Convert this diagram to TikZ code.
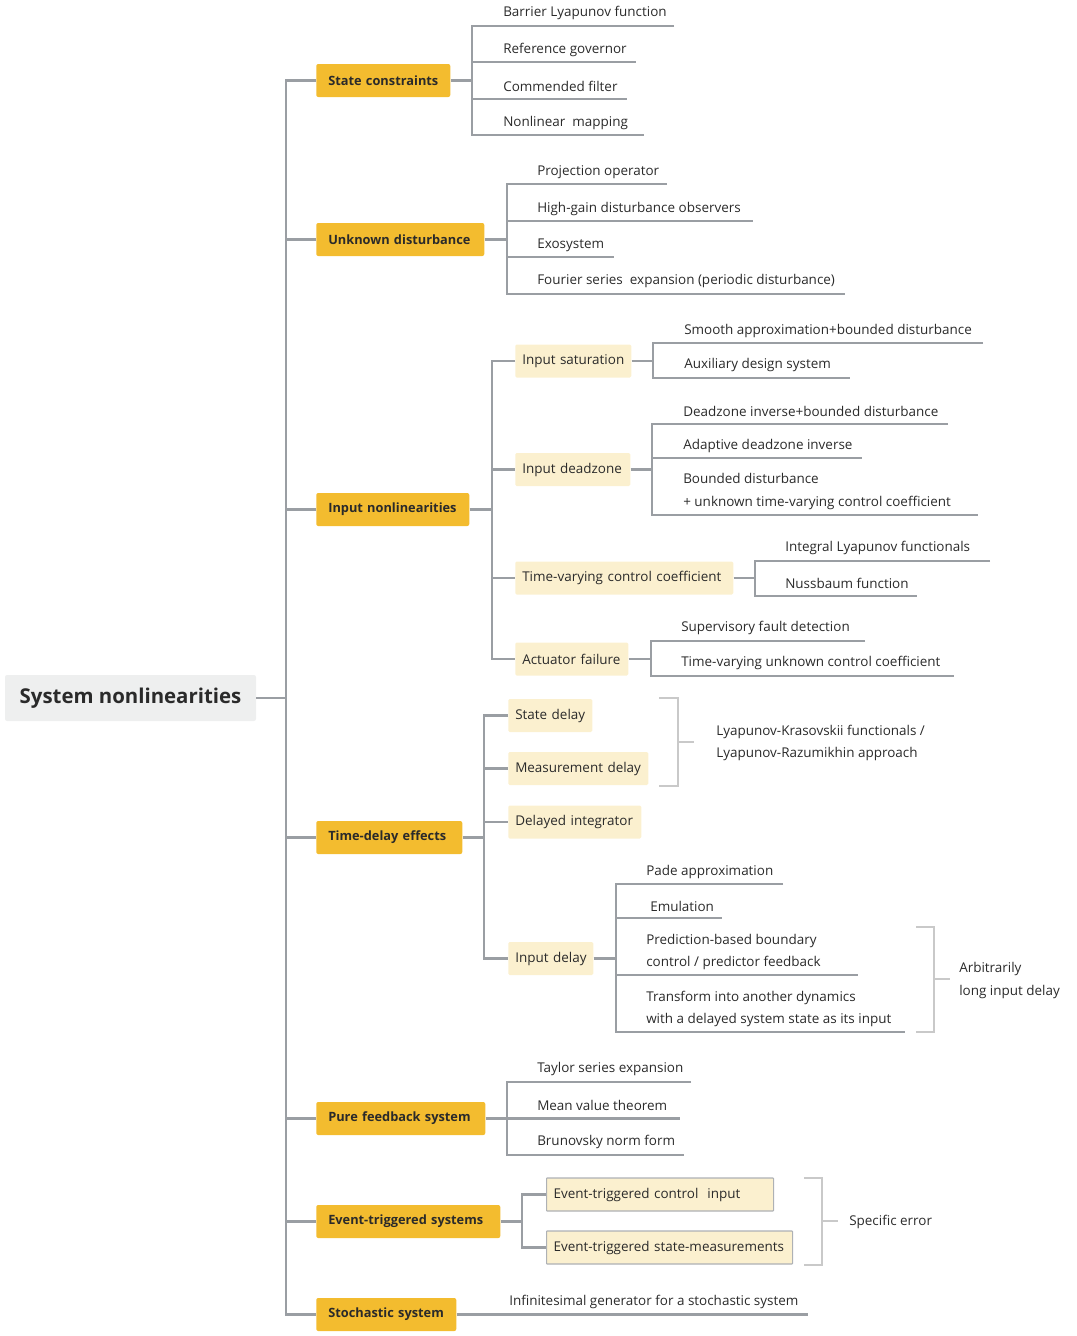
\documentclass[tikz,border=0pt]{standalone}
\usepackage{fontspec}
\setmainfont{Open Sans}
\definecolor{orangeA}{HTML}{F3BC2F}
\definecolor{creamA}{HTML}{FBF0CF}
\definecolor{rootA}{HTML}{EEEFEF}
\definecolor{txtA}{HTML}{2A2A2A}
\definecolor{lineA}{HTML}{9A9EA3}
\definecolor{brkA}{HTML}{C9C9C9}
\begin{document}
\begin{tikzpicture}[x=0.75pt,y=-0.75pt,
  rootbox/.style={fill=rootA, rounded corners=1.5pt, inner sep=0pt, text=txtA,
    font=\bfseries\fontsize{15.3}{18}\selectfont, minimum height=46*0.75pt},
  lone/.style={fill=orangeA, rounded corners=1.5pt, inner sep=0pt, anchor=west, text=txtA,
    align=left, font=\bfseries\fontsize{9.6}{11}\selectfont, minimum height=33*0.75pt,
    text width=#1*0.75pt, execute at begin node={\hyphenpenalty=10000\hspace*{9pt}}},
  ltwo/.style={fill=creamA, rounded corners=1pt, inner sep=0pt, anchor=west, text=txtA,
    align=left, font=\fontsize{10.1}{12}\selectfont, minimum height=33*0.75pt,
    text width=#1*0.75pt, execute at begin node={\hyphenpenalty=10000\hspace*{5.25pt}}},
  lthree/.style={ltwo=#1, draw=lineA!80, line width=0.8pt, rounded corners=0.5pt},
  leaf/.style={anchor=west, inner sep=0pt, text=txtA, font=\fontsize{10.1}{17}\selectfont, align=left},
  spine/.style={draw=lineA, line width=2.2pt},
  branch/.style={draw=lineA, line width=1.8pt},
  brk/.style={draw=brkA, line width=1.4pt}
]
\useasboundingbox (0,0) rectangle (1076,1336);

% root
\node[rootbox, minimum width=251*0.75pt] (root) at (130.5,698) {System nonlinearities};

% level one
\node[lone=134] (sc) at (316,80.5) {State constraints};
\node[lone=168] (ud) at (316,239.5) {Unknown disturbance};
\node[lone=153] (inl) at (316,509.5) {Input nonlinearities};
\node[lone=146] (td) at (316,837.5) {Time-delay effects};
\node[lone=169] (pf) at (316,1118.5) {Pure feedback system};
\node[lone=184] (et) at (316,1221.5) {Event-triggered systems};
\node[lone=140] (ss) at (316,1314.5) {Stochastic system};

% spine
\draw[spine] (root.east) -- (286,698);
\draw[spine] (sc.west) -- (286,80.5) -- (286,1314.5) -- (ss.west);
\draw[spine] (286,239.5) -- (ud.west);
\draw[spine] (286,509.5) -- (inl.west);
\draw[spine] (286,837.5) -- (td.west);
\draw[spine] (286,1118.5) -- (pf.west);
\draw[spine] (286,1221.5) -- (et.west);

% State constraints
\node[leaf] (sc1) at (503,13) {Barrier Lyapunov function};
\node[leaf] (sc2) at (503,50) {Reference governor};
\node[leaf] (sc3) at (503,86) {Commended filter};
\node[leaf] (sc4) at (503,123) {Nonlinear\ \ mapping};
\draw[branch] (sc.east) -- (472,80.5);
\draw[branch] (674,26) -- (472,26) -- (472,135) -- (644,135);
\draw[branch] (472,62) -- (636,62);
\draw[branch] (472,99) -- (627,99);

% Unknown disturbance
\node[leaf] (ud1) at (537,172) {Projection operator};
\node[leaf] (ud2) at (537,209) {High-gain disturbance observers};
\node[leaf] (ud3) at (537,245) {Exosystem};
\node[leaf] (ud4) at (537,281) {Fourier series\ \ expansion (periodic disturbance)};
\draw[branch] (ud.east) -- (507,239.5);
\draw[branch] (667,184) -- (507,184) -- (507,294) -- (845,294);
\draw[branch] (507,221) -- (753,221);
\draw[branch] (507,257) -- (614,257);

% Input nonlinearities
\node[ltwo=116] (isat) at (515,361) {Input saturation};
\node[ltwo=115] (idz) at (515,469.5) {Input deadzone};
\node[ltwo=218] (tvc) at (515,578) {Time-varying control coefficient};
\node[ltwo=113] (af) at (515,659) {Actuator failure};
\draw[branch] (inl.east) -- (492,509.5);
\draw[branch] (isat.west) -- (492,361) -- (492,659) -- (af.west);
\draw[branch] (492,469.5) -- (idz.west);
\draw[branch] (492,578) -- (tvc.west);

% Input saturation children
\node[leaf] (is1) at (684,331) {Smooth approximation+bounded disturbance};
\node[leaf] (is2) at (684,365) {Auxiliary design system};
\draw[branch] (isat.east) -- (653,361);
\draw[branch] (983,343) -- (653,343) -- (653,378) -- (850,378);

% Input deadzone children
\node[leaf] (dz1) at (683,411) {Deadzone inverse+bounded disturbance};
\node[leaf] (dz2) at (683,446) {Adaptive deadzone inverse};
\node[leaf] (dz3) at (683,491.5) {Bounded disturbance\\+ unknown time-varying control coefficient};
\draw[branch] (idz.east) -- (652,469.5);
\draw[branch] (948,424) -- (652,424) -- (652,515) -- (978,515);
\draw[branch] (652,458) -- (862,458);

% Time-varying control coefficient children
\node[leaf] (tv1) at (785,548) {Integral Lyapunov functionals};
\node[leaf] (tv2) at (785,583) {Nussbaum function};
\draw[branch] (tvc.east) -- (755,578);
\draw[branch] (990,561) -- (755,561) -- (755,596) -- (917,596);

% Actuator failure children
\node[leaf] (af1) at (681,628) {Supervisory fault detection};
\node[leaf] (af2) at (681,663) {Time-varying unknown control coefficient};
\draw[branch] (af.east) -- (651,659);
\draw[branch] (865,641) -- (651,641) -- (651,676) -- (954,676);

% Time-delay effects
\node[ltwo=84] (sd) at (508,715.5) {State delay};
\node[ltwo=140] (md) at (508,768.5) {Measurement delay};
\node[ltwo=133] (dint) at (508,822) {Delayed integrator};
\node[ltwo=85] (idl) at (508,958.5) {Input delay};
\draw[branch] (td.east) -- (484,837.5);
\draw[branch] (sd.west) -- (484,715.5) -- (484,958.5) -- (idl.west);
\draw[branch] (484,768.5) -- (md.west);
\draw[branch] (484,822) -- (dint.west);

% bracket for state / measurement delay
\draw[brk] (659,698) -- (678,698) -- (678,786) -- (659,786);
\draw[brk] (678,742) -- (694,742);
\node[leaf] (lk) at (716,743) {Lyapunov-Krasovskii functionals /\\Lyapunov-Razumikhin approach};

% Input delay children
\node[leaf] (id1) at (646,872) {Pade approximation};
\node[leaf] (id2) at (650,906) {Emulation};
\node[leaf] (id3) at (646,952) {Prediction-based boundary\\control / predictor feedback};
\node[leaf] (id4) at (646,1009) {Transform into another dynamics\\with a delayed system state as its input};
\draw[branch] (idl.east) -- (616,958.5);
\draw[branch] (783,884) -- (616,884) -- (616,1032) -- (905,1032);
\draw[branch] (616,918) -- (722,918);
\draw[branch] (616,975) -- (858,975);

% bracket for arbitrarily long input delay
\draw[brk] (916,927) -- (934,927) -- (934,1032) -- (916,1032);
\draw[brk] (934,979) -- (950,979);
\node[leaf] (ald) at (959,980.5) {Arbitrarily\\long input delay};

% Pure feedback
\node[leaf] (pf1) at (537,1069) {Taylor series expansion};
\node[leaf] (pf2) at (537,1105) {Mean value theorem};
\node[leaf] (pf3) at (537,1142) {Brunovsky norm form};
\draw[branch] (pf.east) -- (507,1118.5);
\draw[branch] (691,1082) -- (507,1082) -- (507,1155) -- (684,1155);
\draw[branch] (507,1118.5) -- (680,1118.5);

% Event-triggered
\node[lthree=227] (etc) at (546,1194.5) {Event-triggered control\ \ input};
\node[lthree=246] (ets) at (546,1247.5) {Event-triggered state-measurements};
\draw[branch] (et.east) -- (522,1221.5);
\draw[branch] (etc.west) -- (522,1194.5) -- (522,1247.5) -- (ets.west);
\draw[brk] (804,1178) -- (822,1178) -- (822,1265) -- (804,1265);
\draw[brk] (822,1221) -- (838,1221);
\node[leaf] (se) at (849,1222) {Specific error};

% Stochastic
\node[leaf] (ss1) at (509,1302) {Infinitesimal generator for a stochastic system};
\draw[branch] (ss.east) -- (808,1314.5);
\end{tikzpicture}
\end{document}
